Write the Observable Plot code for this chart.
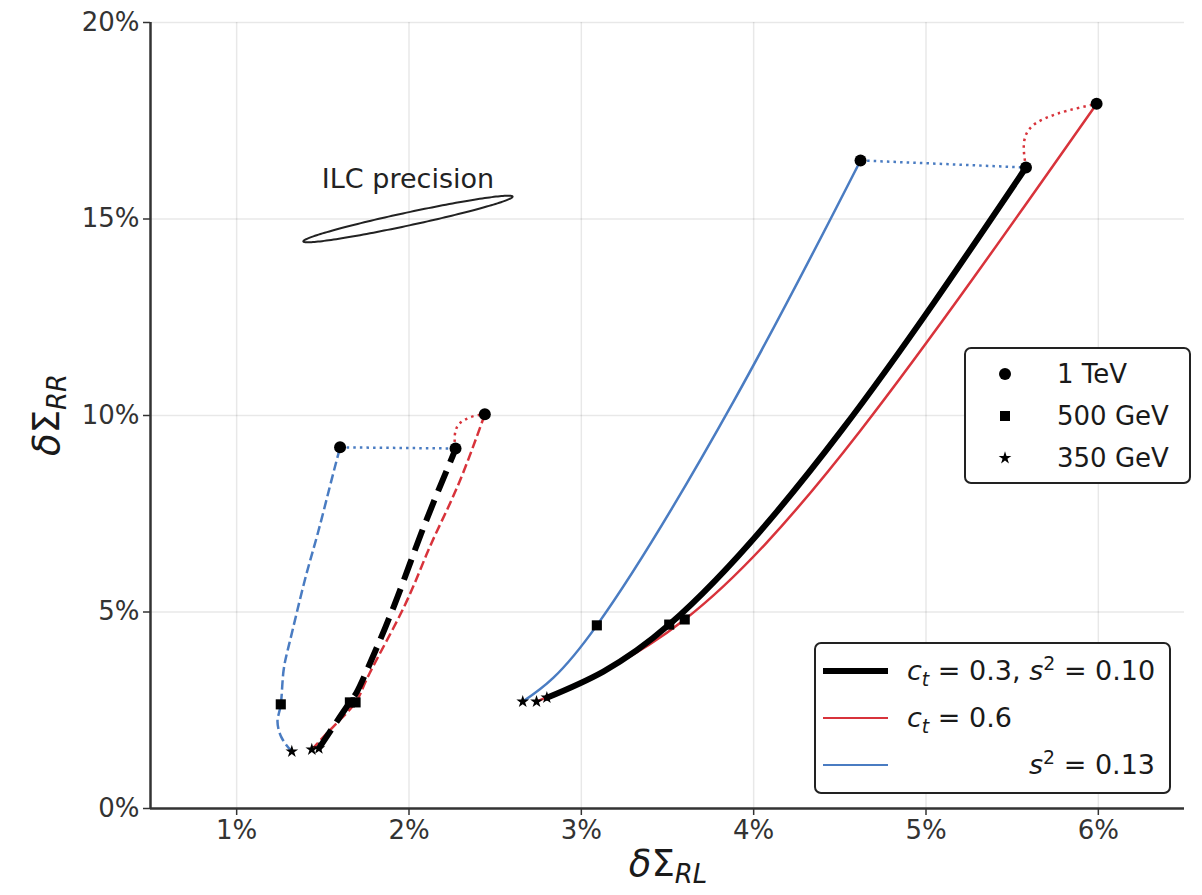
<!DOCTYPE html>
<html><head><meta charset="utf-8">
<script src="https://cdn.jsdelivr.net/npm/d3@7"></script>
<script src="https://cdn.jsdelivr.net/npm/@observablehq/plot@0.6"></script>
<style>
body{margin:0;background:#fff;font-family:"DejaVu Sans",sans-serif;}
#wrap{position:relative;width:1202px;height:895px;overflow:hidden;}
.legend{position:absolute;background:#fff;border:2px solid #222;border-radius:7px;box-sizing:border-box;color:#1a1a1a;font-size:26px;}
.row{position:absolute;height:34px;line-height:34px;white-space:nowrap;}
.lbl{position:absolute;white-space:nowrap;color:#1a1a1a;line-height:1;}
sub,sup{font-size:70%;line-height:0;}
.lbl sub{vertical-align:-0.28em;}
</style></head><body><div id="wrap"></div>
<script>
const BLUE = "#4a7cc2", RED = "#d8333b", BLACK = "#000";
const xTicks = [1, 2, 3, 4, 5, 6];
const yTicks = [0, 5, 10, 15, 20];
const xDomain = [0.5, 6.5], yDomain = [0, 20];

// curves: [δΣ_RL %, δΣ_RR %, energy marker]
const leftBlue = [[1.32,1.45,"350"],[1.26,1.81],[1.237,2.24],[1.256,2.65,"500"],[1.27,3.43],[1.30,4.10],[1.347,4.95],[1.405,5.97],[1.47,6.99],[1.54,8.18],[1.60,9.19,"1000"]];
const leftRed = [[1.436,1.50,"350"],[1.56,2.08],[1.69,2.70,"500"],[1.77,3.43],[1.97,5.12],[2.12,6.65],[2.28,8.18],[2.44,10.03,"1000"]];
const leftBlack = [[1.477,1.53,"350"],[1.657,2.70,"500"],[1.73,3.26],[1.91,5.12],[2.07,6.99],[2.23,8.72],[2.27,9.16,"1000"]];
const rightBlue = [[2.66,2.72,"350"],[3.09,4.66,"500"],[3.886,10.38],[4.62,16.49,"1000"]];
const rightRed = [[2.74,2.72,"350"],[3.60,4.81,"500"],[4.62,9.62],[5.99,17.93,"1000"]];
const rightBlack = [[2.80,2.82,"350"],[3.51,4.68,"500"],[4.51,9.62],[5.58,16.31,"1000"]];
// dotted connectors between the 1 TeV points
const leftBlueDot = [[1.60,9.19],[2.27,9.16]];
const leftRedDot = [[2.27,9.16],[2.265,9.45],[2.28,9.72],[2.32,9.88],[2.38,9.99],[2.44,10.03]];
const rightBlueDot = [[4.62,16.49],[5.58,16.31]];
const rightRedDot = [[5.58,16.31],[5.568,16.91],[5.61,17.34],[5.707,17.59],[5.824,17.76],[5.99,17.93]];
// ILC precision ellipse: centre (data), semi-axes (px), tilt (deg)
const ilcEllipse = {cx: 1.994, cy: 15.0, a: 107, b: 6.5, angle: 12.1};
const ilcLabel = {x: 1.994, y: 16.0, text: "ILC precision"};

const W = 1202, H = 895, M = {top: 22, right: 18, bottom: 87, left: 150};
const kx = (W - M.left - M.right) / (xDomain[1] - xDomain[0]);
const ky = (H - M.top - M.bottom) / (yDomain[1] - yDomain[0]);

const toObj = arr => arr.map(([x, y, e]) => ({x, y, e}));
const th = ilcEllipse.angle * Math.PI / 180;
const ellipsePts = d3.range(0, 360, 2).map(deg => {
  const t = deg * Math.PI / 180;
  const dx = ilcEllipse.a * Math.cos(t) * Math.cos(th) - ilcEllipse.b * Math.sin(t) * Math.sin(th);
  const dy = ilcEllipse.a * Math.cos(t) * Math.sin(th) + ilcEllipse.b * Math.sin(t) * Math.cos(th);
  return {x: ilcEllipse.cx + dx / kx, y: ilcEllipse.cy + dy / ky};
});

const curves = [
  {pts: leftBlue, stroke: BLUE, w: 2.5, dash: "9.25,4"},
  {pts: leftRed, stroke: RED, w: 2.5, dash: "9.25,4"},
  {pts: rightBlue, stroke: BLUE, w: 2.5, dash: null},
  {pts: rightRed, stroke: RED, w: 2.5, dash: null},
  {pts: leftBlueDot, stroke: BLUE, w: 2.5, dash: "2.5,4.1", linear: true},
  {pts: leftRedDot, stroke: RED, w: 2.5, dash: "2.5,4.1"},
  {pts: rightBlueDot, stroke: BLUE, w: 2.5, dash: "2.5,4.1", linear: true},
  {pts: rightRedDot, stroke: RED, w: 2.5, dash: "2.5,4.1"},
  {pts: leftBlack, stroke: BLACK, w: 6, dash: "22,9.6"},
  {pts: rightBlack, stroke: BLACK, w: 6, dash: null}
];
const allPts = [leftBlue, leftRed, leftBlack, rightBlue, rightRed, rightBlack].flatMap(toObj);

const marks = [
  Plot.gridX(xTicks, {stroke: "#000", strokeOpacity: 0.09, strokeWidth: 1.5}),
  Plot.gridY(yTicks, {stroke: "#000", strokeOpacity: 0.09, strokeWidth: 1.5}),
  Plot.line(ellipsePts, {x: "x", y: "y", stroke: "#222", strokeWidth: 2, curve: "linear-closed"}),
  Plot.text([ilcLabel], {x: "x", y: "y", text: "text", fontSize: 27, fill: "#222", textAnchor: "middle", lineAnchor: "middle"}),
  ...curves.map(c => Plot.line(toObj(c.pts), {
    x: "x", y: "y", stroke: c.stroke, strokeWidth: c.w,
    strokeDasharray: c.dash, strokeLinecap: c.dash ? "butt" : "round",
    curve: c.linear ? "linear" : "natural"
  })),
  Plot.dot(allPts.filter(d => d.e === "1000"), {x: "x", y: "y", symbol: "circle", r: 6, fill: "#000", stroke: "none"}),
  Plot.dot(allPts.filter(d => d.e === "500"), {x: "x", y: "y", symbol: "square", r: 5.7, fill: "#000", stroke: "none"}),
  Plot.dot(allPts.filter(d => d.e === "350"), {x: "x", y: "y", symbol: "star", r: 4, fill: "#000", stroke: "none"}),
  Plot.ruleX([xDomain[0]], {stroke: "#333", strokeWidth: 2.5}),
  Plot.ruleY([yDomain[0]], {stroke: "#333", strokeWidth: 2.5}),
  Plot.axisX(xTicks, {tickFormat: d => d + "%", tickSize: 7, tickPadding: 5, fontSize: 26, label: null, color: "#333", strokeWidth: 1.5}),
  Plot.axisY(yTicks, {tickFormat: d => d + "%", tickSize: 7, tickPadding: 4, fontSize: 26, label: null, color: "#333", strokeWidth: 1.5})
];

const chart = Plot.plot({
  width: W, height: H,
  marginTop: M.top, marginRight: M.right, marginBottom: M.bottom, marginLeft: M.left,
  x: {domain: xDomain},
  y: {domain: yDomain},
  style: {fontFamily: "DejaVu Sans", background: "#fff", overflow: "visible"},
  marks
});
const wrap = document.getElementById("wrap");
wrap.appendChild(chart);

function sym(type, size) {
  return `<svg width="24" height="24" viewBox="-12 -12 24 24" style="position:absolute;left:-12px;top:-12px"><path d="${d3.symbol(type, size)()}" fill="#000"/></svg>`;
}
function add(html, style, cls) {
  const d = document.createElement("div");
  d.className = cls; d.innerHTML = html;
  Object.assign(d.style, style);
  wrap.appendChild(d);
  return d;
}

// energy legend
const energyLegend = [
  {label: "1 TeV", type: d3.symbolCircle, size: Math.PI * 36},
  {label: "500 GeV", type: d3.symbolSquare, size: 100},
  {label: "350 GeV", type: d3.symbolStar, size: Math.PI * 16}
];
const L1 = add("", {left: "964px", top: "347px", width: "227px", height: "137px"}, "legend");
energyLegend.forEach((e, i) => {
  const cy = 25 + i * 42;
  const m = document.createElement("div");
  Object.assign(m.style, {position: "absolute", left: "39px", top: cy + "px"});
  m.innerHTML = sym(e.type, e.size);
  L1.appendChild(m);
  const r = document.createElement("div");
  r.className = "row"; r.textContent = e.label;
  Object.assign(r.style, {left: "91px", top: (cy - 17) + "px"});
  L1.appendChild(r);
});

// parameter legend
const paramLegend = [
  {html: '<i>c</i><sub><i>t</i></sub> = 0.3, <i>s</i><sup>2</sup> = 0.10', color: BLACK, w: 6},
  {html: '<i>c</i><sub><i>t</i></sub> = 0.6', color: RED, w: 2.5},
  {html: '<i>s</i><sup>2</sup> = 0.13', color: BLUE, w: 2.5, right: true}
];
const L2 = add("", {left: "814px", top: "642px", width: "357px", height: "152px"}, "legend");
paramLegend.forEach((p, i) => {
  const cy = 27 + i * 47;
  const ln = document.createElement("div");
  Object.assign(ln.style, {position: "absolute", left: "7px", width: "65px", top: (cy - p.w / 2) + "px", height: p.w + "px", background: p.color});
  L2.appendChild(ln);
  const r = document.createElement("div");
  r.className = "row"; r.innerHTML = p.html;
  const st = {top: (cy - 17) + "px", fontSize: "27px"};
  if (p.right) st.right = "14px"; else st.left = "91px";
  Object.assign(r.style, st);
  L2.appendChild(r);
});

// axis labels
add('<i>δ</i>Σ<sub><i>RL</i></sub>', {left: "668px", top: "845px", fontSize: "37px", transform: "translateX(-50%)"}, "lbl");
add('<i>δ</i>Σ<sub><i>RR</i></sub>', {left: "46px", top: "415px", fontSize: "37px", transform: "translate(-50%,-50%) rotate(-90deg)"}, "lbl");
</script>
</body></html>
